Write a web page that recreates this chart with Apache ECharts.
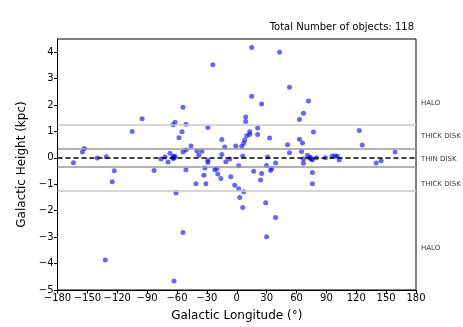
<!DOCTYPE html>
<html>
<head>
<meta charset="utf-8">
<script src="https://cdn.jsdelivr.net/npm/echarts@6/dist/echarts.min.js"></script>
<style>
  html, body { margin: 0; padding: 0; background: #fff; }
  #chart { width: 463px; height: 327px; }
</style>
</head>
<body>
<div id="chart"></div>
<script>
// galactic longitude (deg) of each object
const longitude = [
  -164, -155, -153, -140, -131, -123, -125, -132, -105, -95, -83,
  -76, -72, -69, -67, -64, -63, -64, -62, -63, -61, -63, -64, -62, -58,
  -54, -51, -55, -46, -51, -54, -40, -35, -38, -29, -29, -24, -29, -15, -12,
  -1, 5, -15, -7, 6, 7, 8, 10, 13, 13, 9, 9, 15, 15, 25, 21, 21, 33,
  43, 53, 51, 53, 63, 63, 31,
  -51, -41, -33, -31, -32, -22, -20, -19, -16, -11, -6, -2, 2, 3, 7, 6, 2,
  17, 24, 25, 29, 30, 34, 35, 39, 39, 30, -54,
  72, 67, 77, 66, 123, 126, 65, 71, 73, 74, 75, 76, 67, 67, 80, 89, 96, 99,
  101, 103, 140, 145, 159, 76, 76
]
// galactic height (kpc), same order
const height = [
  -0.18, 0.22, 0.36, 0.0, 0.04, -0.49, -0.9, -3.86, 1.0, 1.48, -0.48,
  -0.04, 0.03, -0.16, 0.18, 0.05, 0.02, -0.02, 0.06, 0.0, -1.33, -4.66, 1.25, 1.35, 0.76,
  1.92, 1.27, 0.99, 0.45, 0.30, 0.22, 0.26, 0.25, 0.10, -0.09, -0.17, 3.53, 1.15, 0.70, 0.41,
  0.45, 0.44, 0.13, -0.04, 0.07, 0.55, 0.68, 0.84, 0.89, 0.99, 1.38, 1.55, 4.18, 2.33, 2.04, 1.13, 0.89, 0.75,
  4.0, 2.67, 0.5, 0.19, 1.45, 0.71, 0.03,
  -0.45, -0.98, -0.66, -0.98, -0.38, -0.45, -0.40, -0.61, -0.78, -0.15, -0.71, -1.04, -1.17, -1.5, -1.28, -1.88, -0.30,
  -0.51, -0.84, -0.59, -1.70, -0.29, -0.48, -0.40, -0.19, -2.26, -2.98, -2.82,
  2.15, 1.69, 0.98, 0.56, 1.04, 0.49, 0.24, 0.10, 0.0, 0.02, -0.05, -0.07, -0.04, -0.2, 0.01, 0.01, 0.07, 0.07,
  0.06, -0.08, -0.19, -0.11, 0.22, -0.55, -0.98
]
// component boundaries (kpc)
const thinDisk = 0.35
const thickDisk = 1.25
// region names and the heights where they are written
const regionNames = ['HALO', 'THICK DISK', 'THIN DISK', 'THICK DISK', 'HALO']
const regionHeights = [2.07, 0.83, -0.04, -1.0, -3.4]

const points = longitude.map((lon, i) => [lon, height[i]])
const minus = (v) => String(v).replace('-', '\u2212')
const font = 'DejaVu Sans'

const myChart = echarts.init(document.getElementById('chart'))
myChart.setOption({
  animation: false,
  title: {
    text: 'Total Number of objects: ' + points.length,
    right: 44,
    top: 17,
    textStyle: { fontFamily: font, fontSize: 10, fontWeight: 'normal', color: '#000' },
  },
  grid: {
    left: 57.5,
    right: 47,
    top: 39,
    bottom: 35,
    show: true,
    borderColor: '#000',
    borderWidth: 1,
  },
  xAxis: {
    type: 'value',
    min: -180,
    max: 180,
    interval: 30,
    name: 'Galactic Longitude (\u00b0)',
    nameLocation: 'middle',
    nameGap: 20,
    nameTextStyle: { fontFamily: font, fontSize: 12, color: '#000' },
    splitLine: { show: false },
    axisLine: { onZero: false, lineStyle: { color: '#000' } },
    axisTick: { inside: false, length: 3.5, lineStyle: { color: '#000' } },
    axisLabel: { fontFamily: font, fontSize: 10, color: '#000', margin: 3, formatter: minus },
  },
  yAxis: {
    type: 'value',
    min: -5,
    max: 4.5,
    interval: 1,
    name: 'Galactic Height (kpc)',
    nameLocation: 'middle',
    nameGap: 30,
    nameTextStyle: { fontFamily: font, fontSize: 12, color: '#000' },
    splitLine: { show: false },
    axisLine: { onZero: false, lineStyle: { color: '#000' } },
    axisTick: { length: 3.5, lineStyle: { color: '#000' } },
    axisLabel: {
      fontFamily: font,
      fontSize: 10,
      color: '#000',
      margin: 4,
      showMaxLabel: false,
      formatter: (v) => (Number.isInteger(v) ? minus(v) : ''),
    },
  },
  series: [
    {
      type: 'scatter',
      data: points,
      symbolSize: 5,
      itemStyle: { color: '#0000ff', opacity: 0.6 },
      z: 3,
      markLine: {
        silent: true,
        symbol: 'none',
        label: { show: false },
        data: [
          { yAxis: thickDisk, lineStyle: { color: '#c8c8c8', width: 1.5, type: 'solid' } },
          { yAxis: -thickDisk, lineStyle: { color: '#c8c8c8', width: 1.5, type: 'solid' } },
          { yAxis: thinDisk, lineStyle: { color: '#9a9a9a', width: 1.5, type: 'solid' } },
          { yAxis: -thinDisk, lineStyle: { color: '#9a9a9a', width: 1.5, type: 'solid' } },
          { yAxis: 0, lineStyle: { color: '#000', width: 1.5, type: [5, 3] } },
        ],
      },
    },
    {
      // region labels to the right of the frame
      type: 'scatter',
      symbolSize: 0,
      silent: true,
      clip: false,
      data: regionNames.map((n, i) => ({ value: [180, regionHeights[i]], name: n })),
      label: {
        show: true,
        position: 'right',
        distance: 5,
        formatter: (p) => p.name,
        fontFamily: font,
        fontSize: 7,
        color: '#000',
      },
    },
  ],
})
</script>
</body>
</html>
